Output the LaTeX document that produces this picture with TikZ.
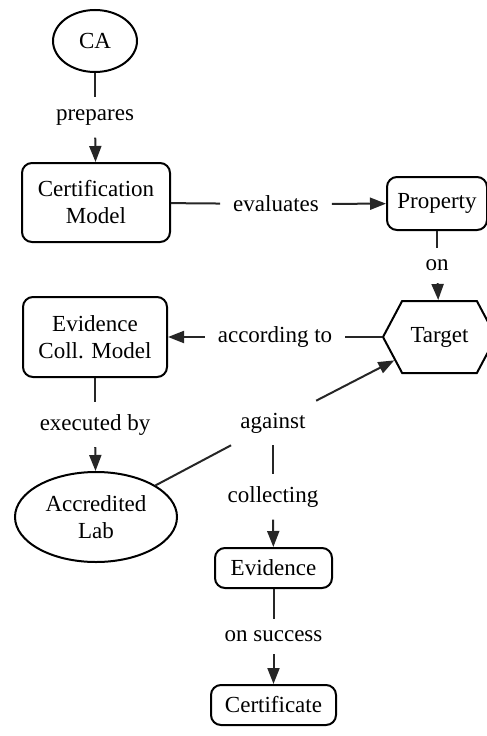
\documentclass[tikz,border=0pt]{standalone}
\usepackage{fontspec}
\setmainfont{Liberation Serif}
\usetikzlibrary{shapes.geometric,shapes.symbols,arrows.meta}
\begin{document}
\begin{tikzpicture}[x=1pt,y=-1pt,
  font=\fontsize{23}{27}\selectfont,
  every node/.style={align=center, inner sep=0pt},
  conn/.style={line width=2pt, draw=black!85},
  arr/.style={conn, -{Triangle[length=16pt,width=12pt]}},
  lbl/.style={inner xsep=13pt, inner ysep=12pt},
  rbox/.style={draw, line width=2pt, rounded corners=10pt},
  ell/.style={draw, line width=2pt, ellipse},
  hexa/.style={draw, line width=2pt, signal, signal to=west and east, signal pointer angle=124}
]
\useasboundingbox (0,0) rectangle (487,736);
\clip (0,0) rectangle (487,736);

\node[ell, minimum width=84pt, minimum height=62pt] (ca) at (95,41) {CA};
\node[rbox, minimum width=148pt, minimum height=79pt] (cert) at (96,202.5) {Certification\\Model};
\node[rbox, minimum width=100pt, minimum height=53pt] (prop) at (437,203.5) {Property};
\node[hexa, minimum width=113pt, minimum height=72pt] (target) at (439.5,337) {Target};
\node[rbox, minimum width=144pt, minimum height=80pt] (ecm) at (95,337) {Evidence\\Coll. Model};
\node[ell, minimum width=162pt, minimum height=90pt] (lab) at (96,517) {Accredited\\Lab};
\node[rbox, minimum width=117pt, minimum height=40pt] (evid) at (273.5,568) {Evidence};
\node[rbox, minimum width=125pt, minimum height=40pt] (certif) at (273.5,705) {Certificate};

\node[lbl] (prepares) at (95,117.5) {prepares};
\node[lbl] (evaluates) at (276,204) {evaluates};
\node[lbl] (on) at (437,265.5) {on};
\node[lbl] (according) at (275,337) {according to};
\node[lbl] (executed) at (95,424.5) {executed by};
\node[lbl] (against) at (273,423) {against};
\node[lbl] (collecting) at (273,497) {collecting};
\node[lbl] (onsuccess) at (273.5,636.5) {on success};

\draw[conn] (ca) -- (prepares);
\draw[arr] (prepares) -- (cert);
\draw[conn] (cert) -- (evaluates);
\draw[arr] (evaluates) -- (prop);
\draw[conn] (prop) -- (on);
\draw[arr] (on) -- (target);
\draw[conn] (target.west) -- (according);
\draw[arr] (according) -- (ecm);
\draw[conn] (ecm) -- (executed);
\draw[arr] (executed) -- (lab);
\draw[conn] (lab) -- (against);
\draw[arr] (against) -- (target);
\draw[conn] (against) -- (collecting);
\draw[arr] (collecting) -- (evid);
\draw[conn] (evid) -- (onsuccess);
\draw[arr] (onsuccess) -- (certif);
\end{tikzpicture}
\end{document}
